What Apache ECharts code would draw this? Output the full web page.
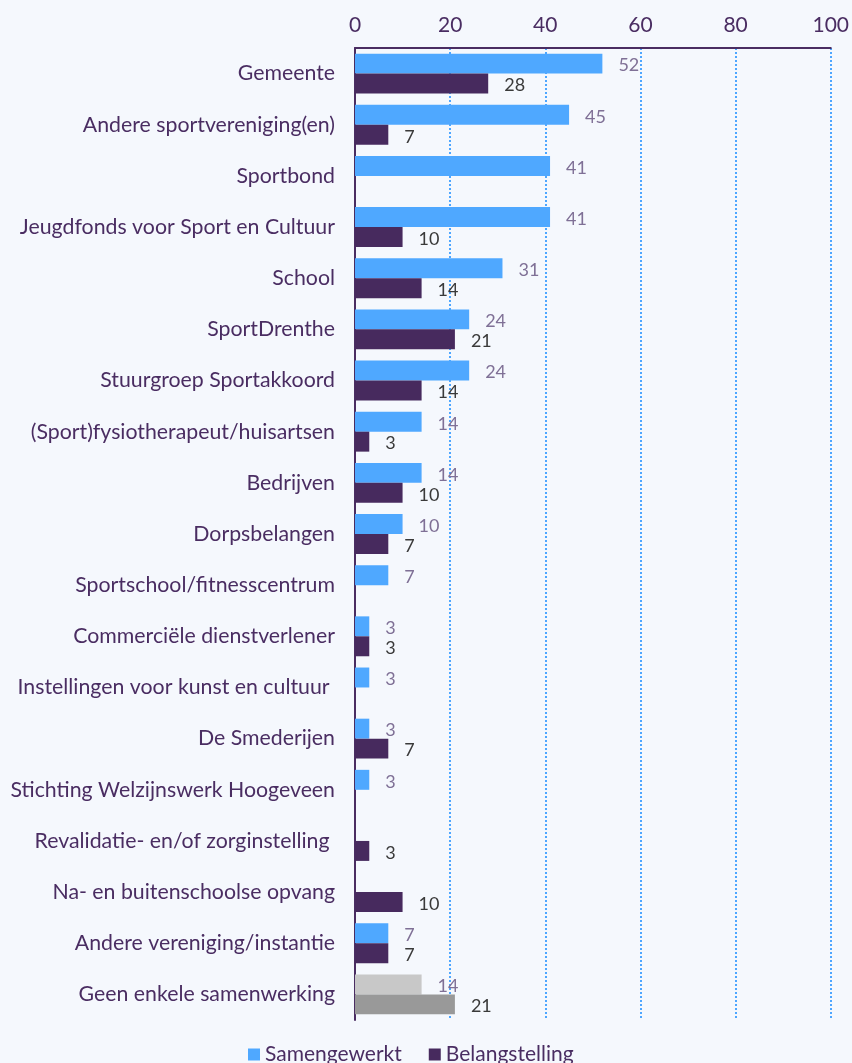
<!DOCTYPE html>
<html>
<head>
<meta charset="utf-8">
<script src="https://cdn.jsdelivr.net/npm/echarts@6/dist/echarts.min.js"></script>
<style>
  html, body { margin: 0; padding: 0; background: #f5f8fd; }
  #chart { width: 852px; height: 1063px; }
</style>
</head>
<body>
<div id="chart"></div>
<script>
const categories = [
  'Gemeente',
  'Andere sportvereniging(en)',
  'Sportbond',
  'Jeugdfonds voor Sport en Cultuur',
  'School',
  'SportDrenthe',
  'Stuurgroep Sportakkoord',
  '(Sport)fysiotherapeut/huisartsen',
  'Bedrijven',
  'Dorpsbelangen',
  'Sportschool/fitnesscentrum',
  'Commerciële dienstverlener',
  'Instellingen voor kunst en cultuur ',
  'De Smederijen',
  'Stichting Welzijnswerk Hoogeveen',
  'Revalidatie- en/of zorginstelling ',
  'Na- en buitenschoolse opvang',
  'Andere vereniging/instantie',
  'Geen enkele samenwerking'
]
const samengewerkt = [52, 45, 41, 41, 31, 24, 24, 14, 14, 10, 7, 3, 3, 3, 3, '-', '-', 7, 14]
const belangstelling = [28, 7, '-', 10, 14, 21, 14, 3, 10, 7, '-', 3, '-', 7, '-', 3, 10, 7, 21]
const xTicks = [0, 20, 40, 60, 80, 100]

const purple = '#4a2d62'
const blue = '#4fa8ff'
const dark = '#472a5e'
const font = 'Lato, "Noto Sans", sans-serif'

// last category is drawn grey
const greyIdx = categories.length - 1
const colorItems = (vals, grey) => vals.map((v, i) =>
  i === greyIdx ? { value: v, itemStyle: { color: grey } } : v)

const chart = echarts.init(document.getElementById('chart'))
const option = {
  backgroundColor: '#f5f8fd',
  animation: false,
  textStyle: { fontFamily: font },
  grid: { left: 355, right: 21, top: 48, bottom: 43, containLabel: false },
  legend: {
    top: 1039,
    left: 243,
    itemWidth: 12,
    itemHeight: 12,
    itemGap: 27,
    icon: 'rect',
    textStyle: { color: purple, fontSize: 21, fontFamily: font },
    data: ['Samengewerkt', 'Belangstelling']
  },
  xAxis: {
    type: 'value',
    position: 'top',
    min: xTicks[0],
    max: xTicks[xTicks.length - 1],
    interval: 20,
    axisLine: { show: true, lineStyle: { color: purple, width: 2 } },
    axisTick: { show: false },
    axisLabel: { color: purple, fontSize: 21, margin: 12, fontFamily: font },
    splitLine: { show: true, lineStyle: { color: '#4da6ff', type: 'dotted', width: 2 } }
  },
  yAxis: {
    type: 'category',
    inverse: true,
    data: categories,
    axisLine: { show: true, lineStyle: { color: purple, width: 2 } },
    axisTick: { show: false },
    axisLabel: { color: purple, fontSize: 21.3, margin: 20, fontFamily: font }
  },
  series: [
    {
      name: 'Samengewerkt',
      type: 'bar',
      barGap: '0%',
      barCategoryGap: '22%',
      itemStyle: { color: blue },
      label: { show: true, position: 'right', distance: 16, offset: [0, 2], color: '#7f7096', fontSize: 18, fontFamily: font },
      data: colorItems(samengewerkt, '#c8c8c8')
    },
    {
      name: 'Belangstelling',
      type: 'bar',
      barGap: '0%',
      barCategoryGap: '22%',
      itemStyle: { color: dark },
      label: { show: true, position: 'right', distance: 16, offset: [0, 2], color: '#3a3a3a', fontSize: 18, fontFamily: font },
      data: colorItems(belangstelling, '#999999')
    }
  ]
}
chart.setOption(option)
</script>
</body>
</html>
